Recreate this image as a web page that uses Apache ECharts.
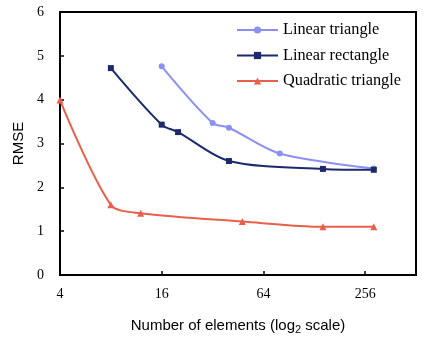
<!DOCTYPE html>
<html><head><meta charset="utf-8">
<script src="https://cdn.jsdelivr.net/npm/echarts@6/dist/echarts.min.js"></script>
<style>html,body{margin:0;padding:0;background:#fff}#c{width:443px;height:345px}</style>
</head><body><div id="c"></div>
<script>
var xTicks = [4, 16, 64, 256];
var linTriN = [16, 32, 40, 80, 288];
var linTriRMSE = [4.76, 3.47, 3.36, 2.77, 2.43];
var linRectN = [8, 16, 20, 40, 144, 288];
var linRectRMSE = [4.72, 3.43, 3.26, 2.60, 2.42, 2.40];
var quadTriN = [4, 8, 12, 48, 144, 288];
var quadTriRMSE = [3.99, 1.60, 1.41, 1.22, 1.10, 1.10];

function pairs(xs, ys){ return xs.map(function(x,i){ return [x, ys[i]]; }); }

var chart = echarts.init(document.getElementById('c'), null, {renderer:'canvas'});
var serif = 'Liberation Serif';
var sans = 'Liberation Sans';
chart.setOption({
  animation: false,
  grid: {left: 60, right: 27, top: 12, bottom: 70, show: true, borderColor: '#000', borderWidth: 2, backgroundColor: 'transparent'},
  legend: {
    orient: 'vertical', left: 231, top: 17, itemWidth: 41, itemHeight: 9, itemGap: 9.5,
    textStyle: {fontFamily: serif, fontSize: 16.3, color: '#000'},
    data: ['Linear triangle', 'Linear rectangle', 'Quadratic triangle']
  },
  xAxis: {
    type: 'log', logBase: 2, min: 4, max: 512, interval: 2,
    axisLine: {show: true, lineStyle: {color: '#000', width: 2}},
    axisTick: {show: true, inside: true, length: 4, lineStyle: {color: '#000', width: 1.5}},
    splitLine: {show: false},
    axisLabel: {fontFamily: serif, fontSize: 14, color: '#000', margin: 12,
      formatter: function(v){ return xTicks.indexOf(Math.round(v)) >= 0 ? String(Math.round(v)) : ''; }},
    name: 'Number of elements (log{s|2} scale)',
    nameLocation: 'middle', nameGap: 41,
    nameTextStyle: {fontFamily: sans, fontSize: 15, color: '#000',
      rich: {s: {fontFamily: sans, fontSize: 11, color: '#000', padding: [8, 0, 0, 0]}}}
  },
  yAxis: {
    type: 'value', min: 0, max: 6, interval: 1,
    axisLine: {show: true, lineStyle: {color: '#000', width: 2}},
    axisTick: {show: true, inside: true, length: 4, lineStyle: {color: '#000', width: 1.5}},
    splitLine: {show: false},
    axisLabel: {fontFamily: serif, fontSize: 14, color: '#000', margin: 16},
    name: 'RMSE', nameLocation: 'middle', nameGap: 34, nameRotate: 90,
    nameTextStyle: {fontFamily: sans, fontSize: 15, color: '#000'}
  },
  series: [
    {name: 'Linear triangle', type: 'line', smooth: 0.3, data: pairs(linTriN, linTriRMSE),
     symbol: 'circle', symbolSize: 6, color: '#8b91f2', lineStyle: {width: 2}},
    {name: 'Linear rectangle', type: 'line', smooth: 0.3, data: pairs(linRectN, linRectRMSE),
     symbol: 'rect', symbolSize: 6, color: '#1c2a6c', lineStyle: {width: 2}},
    {name: 'Quadratic triangle', type: 'line', smooth: 0.3, data: pairs(quadTriN, quadTriRMSE),
     symbol: 'triangle', symbolSize: 7, color: '#e8604b', lineStyle: {width: 2}}
  ]
});
</script></body></html>
